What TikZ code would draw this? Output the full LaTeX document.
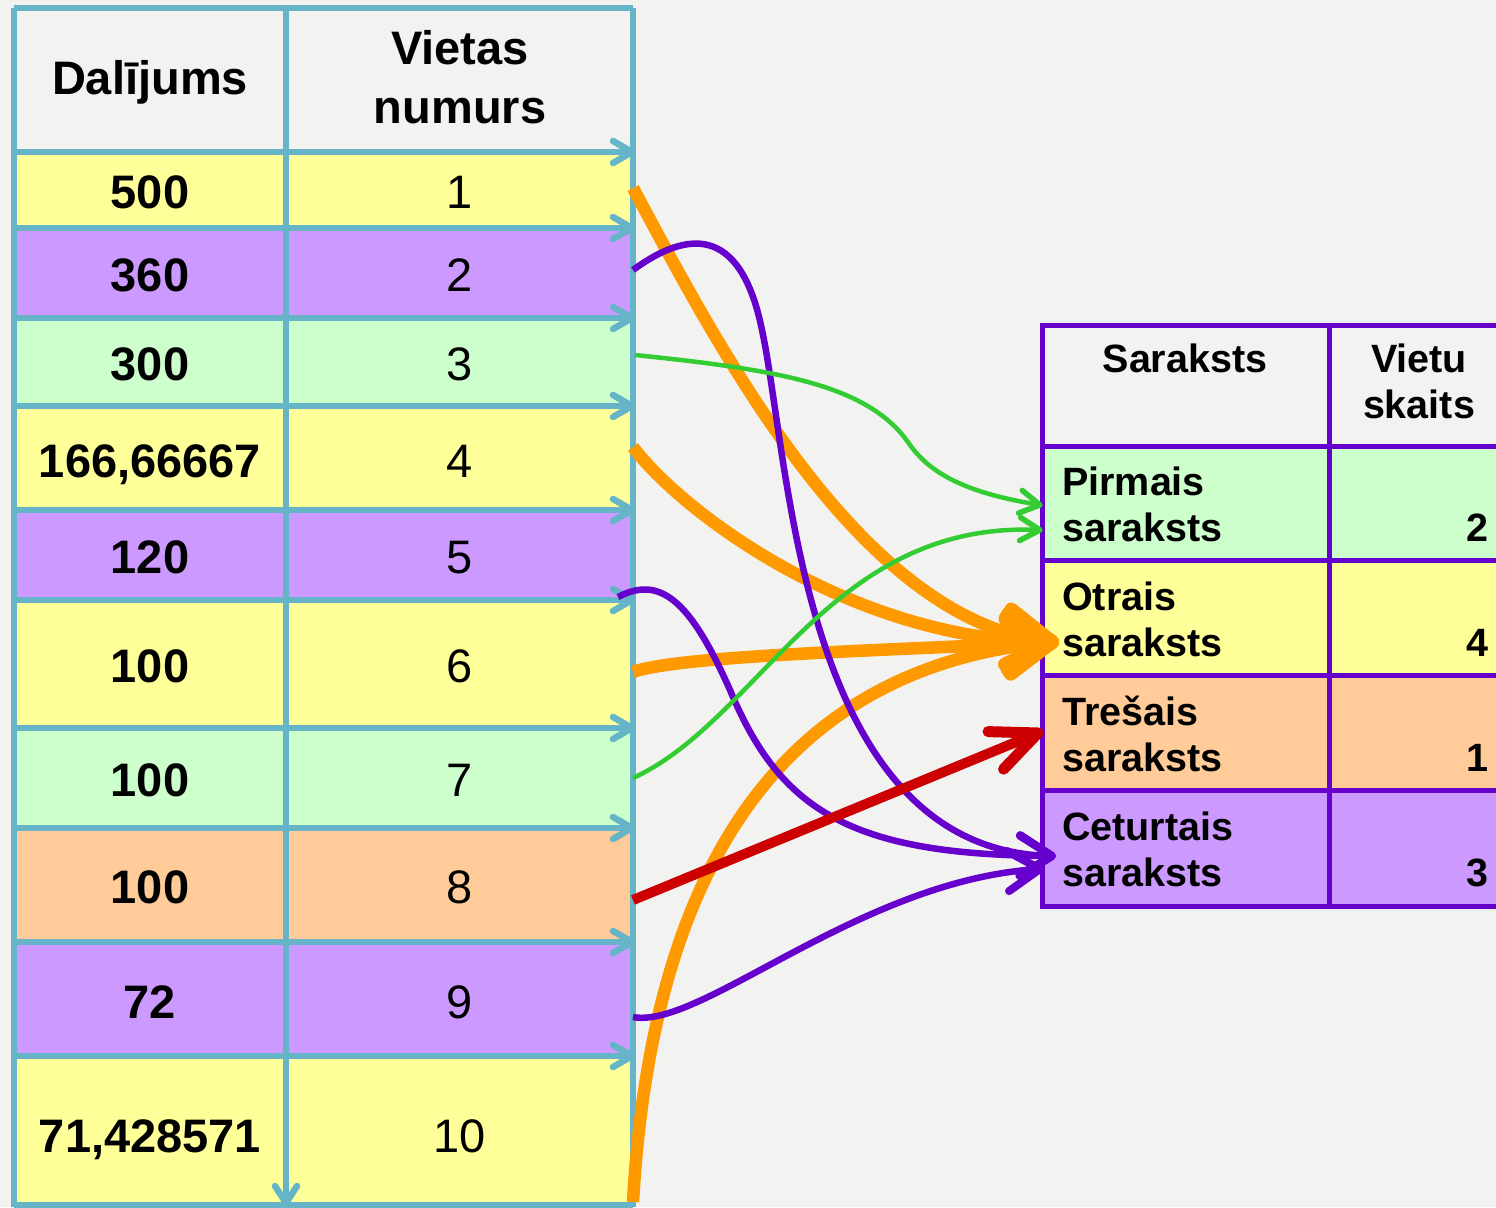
\documentclass[tikz,border=0pt]{standalone}
\usepackage{fontspec}
\setmainfont{Liberation Sans}
\usetikzlibrary{calc}
\definecolor{bg}{HTML}{F2F2F1}
\definecolor{cyel}{HTML}{FFFF99}
\definecolor{cpur}{HTML}{CC99FF}
\definecolor{cgrn}{HTML}{CCFFCC}
\definecolor{corg}{HTML}{FFCC99}
\definecolor{tblue}{HTML}{66B4C8}
\definecolor{tpur}{HTML}{6600CC}
\definecolor{lorange}{HTML}{FF9900}
\definecolor{lgreen}{HTML}{33CC33}
\definecolor{lred}{HTML}{CC0000}
\tikzset{
  tline/.style={line width=6pt, draw=tblue},
  thead/.style={line width=6.5pt, draw=tblue, line cap=round, line join=round},
  pline/.style={line width=5pt, draw=tpur},
  ltxt/.style={anchor=base, inner sep=0pt, font=\fontsize{47}{57}\selectfont},
  ltxtb/.style={ltxt, font=\fontsize{47}{57}\selectfont\bfseries},
  rtxt/.style={anchor=base west, inner sep=0pt, font=\fontsize{39.5}{46}\selectfont\bfseries},
  rnum/.style={anchor=base east, inner sep=0pt, font=\fontsize{39.5}{46}\selectfont\bfseries},
  rhead/.style={anchor=base, inner sep=0pt, font=\fontsize{39.5}{46}\selectfont\bfseries},
  ocurve/.style={line width=12.5pt, draw=lorange, shorten >=4pt},
  ohead/.style={line width=14pt, draw=lorange, line cap=round, line join=round},
  pcurve/.style={line width=6.5pt, draw=tpur, shorten >=2pt},
  phead/.style={line width=8pt, draw=tpur, line cap=round, line join=round},
  gcurve/.style={line width=4.5pt, draw=lgreen, shorten >=1pt},
  ghead/.style={line width=5.5pt, draw=lgreen, line cap=round, line join=round},
  rcurve/.style={line width=10pt, draw=lred, shorten >=3pt},
  rhd/.style={line width=11pt, draw=lred, line cap=round, line join=round},
}
\begin{document}
\begin{tikzpicture}[x=1pt,y=-1pt]
\clip (0,0) rectangle (1496,1207);
\fill[bg] (0,0) rectangle (1496,1207);
% ---------- left table ----------
\fill[bg]   (14,8)    rectangle (633,152);
\fill[cyel] (14,152)  rectangle (633,228);
\fill[cpur] (14,228)  rectangle (633,318);
\fill[cgrn] (14,318)  rectangle (633,406);
\fill[cyel] (14,406)  rectangle (633,510);
\fill[cpur] (14,510)  rectangle (633,600);
\fill[cyel] (14,600)  rectangle (633,728);
\fill[cgrn] (14,728)  rectangle (633,828);
\fill[corg] (14,828)  rectangle (633,942);
\fill[cpur] (14,942)  rectangle (633,1056);
\fill[cyel] (14,1056) rectangle (633,1207);
\draw[tline] (14,8) -- (633,8);
\draw[tline] (14,1205) -- (633,1205);
\foreach \yy in {152,228,318,406,510,600,728,828,942,1056}{
  \draw[tline] (14,\yy) -- (633,\yy);
  \draw[thead] (613,{\yy-11}) -- (632,\yy) -- (613,{\yy+11});
}
\draw[tline] (14,8) -- (14,1207);
\draw[tline] (633,8) -- (633,1207);
\draw[tline] (286,8) -- (286,1205);
\draw[thead] (275,1186) -- (286,1203) -- (297,1186);
% header texts
\node[ltxtb] (hdal) at (150,94) {Dalījums};
\node[ltxtb] (hvie) at (460,65) {Vietas};
\node[ltxtb] (hnum) at (460,123) {numurs};
% rows
\node[ltxtb] (d1)  at (150,208)  {500};
\node[ltxtb] (d2)  at (150,291)  {360};
\node[ltxtb] (d3)  at (150,380)  {300};
\node[ltxtb] (d4)  at (150,477)  {166,66667};
\node[ltxtb] (d5)  at (150,573)  {120};
\node[ltxtb] (d6)  at (150,682)  {100};
\node[ltxtb] (d7)  at (150,796)  {100};
\node[ltxtb] (d8)  at (150,903)  {100};
\node[ltxtb] (d9)  at (150,1018) {72};
\node[ltxtb] (d10) at (150,1152) {71,428571};
\node[ltxt] (n1)  at (460,208)  {1};
\node[ltxt] (n2)  at (460,291)  {2};
\node[ltxt] (n3)  at (460,380)  {3};
\node[ltxt] (n4)  at (460,477)  {4};
\node[ltxt] (n5)  at (460,573)  {5};
\node[ltxt] (n6)  at (460,682)  {6};
\node[ltxt] (n7)  at (460,796)  {7};
\node[ltxt] (n8)  at (460,903)  {8};
\node[ltxt] (n9)  at (460,1018) {9};
\node[ltxt] (n10) at (460,1152) {10};
% ---------- right table ----------
\fill[bg]   (1042,325) rectangle (1520,446);
\fill[cgrn] (1042,446) rectangle (1520,560);
\fill[cyel] (1042,560) rectangle (1520,675);
\fill[corg] (1042,675) rectangle (1520,790);
\fill[cpur] (1042,790) rectangle (1520,906);
\draw[pline] (1042,325) rectangle (1520,906);
\foreach \yy in {446,560,675,790}
  \draw[pline] (1042,\yy) -- (1520,\yy);
\draw[pline] (1329,325) -- (1329,906);
\node[rhead] (hsar) at (1185,372) {Saraksts};
\node[rhead] (hvi)  at (1419,372) {Vietu};
\node[rhead] (hsk)  at (1419,418) {skaits};
\node[rtxt] (l1a) at (1062,495) {Pirmais};
\node[rtxt] (l1b) at (1062,541) {saraksts};
\node[rtxt] (l2a) at (1062,610) {Otrais};
\node[rtxt] (l2b) at (1062,656) {saraksts};
\node[rtxt] (l3a) at (1062,725) {Trešais};
\node[rtxt] (l3b) at (1062,771) {saraksts};
\node[rtxt] (l4a) at (1062,840) {Ceturtais};
\node[rtxt] (l4b) at (1062,886) {saraksts};
\node[rnum] (c1) at (1489,541) {2};
\node[rnum] (c2) at (1489,656) {4};
\node[rnum] (c3) at (1489,771) {1};
\node[rnum] (c4) at (1489,886) {3};
% ---------- connector end points ----------
\coordinate (s1) at (633,188);
\coordinate (s2) at (633,270);
\coordinate (s3) at (635,355);
\coordinate (s4) at (633,447);
\coordinate (s5) at (618,597);
\coordinate (s6) at (633,672);
\coordinate (s7) at (633,778);
\coordinate (s8) at (633,900);
\coordinate (s9) at (633,1017);
\coordinate (s10) at (633,1202);
\coordinate (tg1) at (1040,505);
\coordinate (tg2) at (1040,530);
\coordinate (to) at (1052,642);
\coordinate (tr) at (1038,733);
\coordinate (tp1) at (1052,856);
\coordinate (tp2) at (1040,869);
% last control points (end tangents)
\coordinate (k1) at (860,620);
\coordinate (k4) at (850,640);
\coordinate (k6) at (900,650);
\coordinate (k10) at (760,670);
\coordinate (k2) at (800,850);
\coordinate (k5) at (850,855);
\coordinate (k9) at (860,880);
\coordinate (k3) at (980,495);
\coordinate (k7) at (830,520);
% ---------- connectors ----------
\draw[ocurve] (s1) .. controls (720,350) and (k1) .. (to);
\draw[ocurve] (s4) .. controls (680,510) and (k4) .. (to);
\draw[ocurve] (s6) .. controls (680,655) and (k6) .. (to);
\draw[ocurve] (s10) .. controls (650,900) and (k10) .. (to);
\foreach \kk in {k1,k4,k6,k10}
  \draw[ohead] ($(to)!52pt!32:(\kk)$) -- (to) -- ($(to)!52pt!-32:(\kk)$);
\draw[pcurve] (s2) .. controls (685,232) and (740,222) .. (762,330)
                   .. controls (790,460) and (k2) .. (tp1);
\draw[pcurve] (s5) .. controls (660,575) and (690,600) .. (730,690)
                   .. controls (780,810) and (k5) .. (tp1);
\draw[pcurve] (s9) .. controls (700,1030) and (k9) .. (tp2);
\draw[phead] ($(tp1)!38pt!32:(k2)$) -- (tp1) -- ($(tp1)!38pt!-32:(k2)$);
\draw[phead] ($(tp1)!38pt!32:(k5)$) -- (tp1) -- ($(tp1)!38pt!-32:(k5)$);
\draw[phead] ($(tp2)!38pt!32:(k9)$) -- (tp2) -- ($(tp2)!38pt!-32:(k9)$);
\draw[gcurve] (s3) .. controls (780,370) and (870,385) .. (910,445)
                   .. controls (935,480) and (k3) .. (tg1);
\draw[gcurve] (s7) .. controls (760,720) and (830,520) .. (tg2);
\draw[ghead] ($(tg1)!23pt!30:(k3)$) -- (tg1) -- ($(tg1)!23pt!-30:(k3)$);
\draw[ghead] ($(tg2)!23pt!30:(k7)$) -- (tg2) -- ($(tg2)!23pt!-30:(k7)$);
\draw[rcurve] (s8) -- (tr);
\draw[rhd] ($(tr)!50pt!24:(s8)$) -- (tr) -- ($(tr)!50pt!-24:(s8)$);
\end{tikzpicture}
\end{document}
